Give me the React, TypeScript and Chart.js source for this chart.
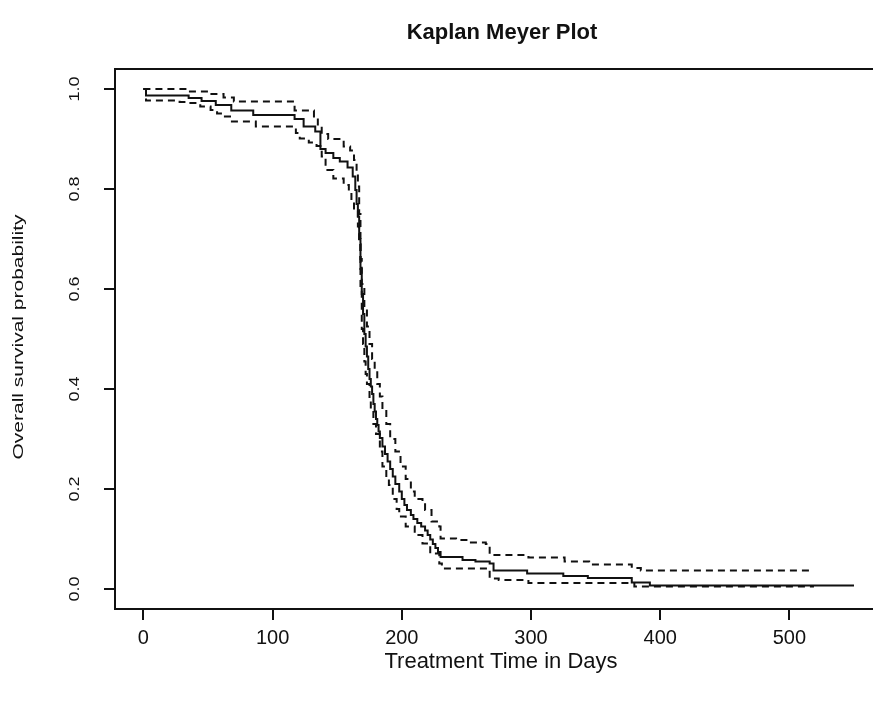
import React, { useEffect, useRef } from "react";
import { Chart, registerables } from "chart.js";

Chart.register(...registerables);

// ---- text ----
const chartTitle = "Kaplan Meyer Plot";
const xAxisTitle = "Treatment Time in Days";
const yAxisTitle = "Overall survival probability";

// ---- axes ----
const xTicks = [0, 100, 200, 300, 400, 500];
const yTicks = [0, 0.2, 0.4, 0.6, 0.8, 1.0];
const yTickLabels = ["0.0", "0.2", "0.4", "0.6", "0.8", "1.0"];
const xMin = -22;
const xMax = 574;
const yMin = -0.04;
const yMax = 1.04;

// ---- Kaplan-Meier estimate (days, survival) ----
const survTimes = [0, 2, 35, 45, 56, 68, 85, 117, 124, 133, 137, 141, 147, 152, 158, 162, 164, 165, 166, 167, 168, 169, 170, 171, 172, 173, 174, 175, 176, 177, 178, 179, 180, 181, 182, 183, 185, 187, 189, 191, 193, 195, 198, 200, 202, 204, 207, 209, 212, 215, 218, 220, 222, 224, 226, 228, 230, 247, 257, 268, 271, 297, 325, 344, 378, 392, 550];
const survValues = [1.0, 0.987, 0.982, 0.976, 0.968, 0.957, 0.948, 0.940, 0.925, 0.915, 0.880, 0.872, 0.862, 0.855, 0.843, 0.825, 0.798, 0.770, 0.745, 0.700, 0.640, 0.590, 0.550, 0.510, 0.485, 0.465, 0.440, 0.420, 0.405, 0.390, 0.370, 0.355, 0.340, 0.328, 0.315, 0.302, 0.285, 0.270, 0.255, 0.240, 0.225, 0.210, 0.195, 0.180, 0.168, 0.158, 0.148, 0.140, 0.132, 0.125, 0.117, 0.108, 0.099, 0.090, 0.082, 0.074, 0.064, 0.058, 0.055, 0.051, 0.037, 0.031, 0.026, 0.022, 0.013, 0.007, 0.007];

// ---- upper confidence limit ----
const upperTimes = [0, 35, 50, 62, 70, 117, 132, 135, 138, 143, 155, 160, 163, 165, 166, 167, 168, 169, 171, 173, 175, 177, 179, 181, 183, 185, 188, 191, 195, 199, 203, 207, 210, 216, 218, 223, 229, 230, 242, 252, 265, 268, 298, 326, 345, 378, 385, 519];
const upperValues = [1.0, 0.995, 0.990, 0.983, 0.975, 0.957, 0.941, 0.925, 0.910, 0.900, 0.885, 0.877, 0.858, 0.830, 0.805, 0.750, 0.660, 0.610, 0.560, 0.525, 0.490, 0.460, 0.440, 0.410, 0.385, 0.360, 0.330, 0.300, 0.275, 0.245, 0.220, 0.195, 0.180, 0.175, 0.158, 0.135, 0.125, 0.101, 0.098, 0.093, 0.090, 0.068, 0.063, 0.055, 0.049, 0.042, 0.037, 0.037];

// ---- lower confidence limit ----
const lowerTimes = [0, 2, 28, 35, 44, 52, 57, 62, 67, 87, 118, 121, 128, 134, 138, 141, 147, 155, 159, 161, 163, 166, 167, 168, 169, 170, 171, 172, 173, 175, 176, 178, 180, 183, 185, 188, 190, 193, 196, 198, 203, 210, 216, 222, 229, 231, 268, 275, 298, 380, 519];
const lowerValues = [1.0, 0.977, 0.974, 0.972, 0.965, 0.958, 0.951, 0.945, 0.935, 0.925, 0.912, 0.901, 0.893, 0.886, 0.865, 0.838, 0.821, 0.808, 0.795, 0.778, 0.758, 0.725, 0.690, 0.600, 0.520, 0.490, 0.455, 0.430, 0.410, 0.380, 0.360, 0.330, 0.310, 0.275, 0.245, 0.220, 0.208, 0.180, 0.160, 0.145, 0.125, 0.108, 0.091, 0.071, 0.051, 0.041, 0.021, 0.018, 0.012, 0.005, 0.005];

const FONT = "'Liberation Sans', Arial, Helvetica, sans-serif";

const toPoints = (t: number[], v: number[]) => t.map((x, i) => ({ x, y: v[i] }));

// draws text rotated 90° CCW, stretched along its reading direction
function drawRotated(ctx: CanvasRenderingContext2D, text: string, x: number, y: number, stretch: number) {
  ctx.save();
  ctx.translate(x, y);
  ctx.rotate(-Math.PI / 2);
  ctx.scale(stretch, 1);
  ctx.fillText(text, 0, 0);
  ctx.restore();
}

const decorPlugin = {
  id: "decor",
  afterDraw(chart: any) {
    const { ctx, chartArea: a, scales } = chart;
    ctx.save();
    // frame
    ctx.strokeStyle = "#111";
    ctx.lineWidth = 2;
    ctx.strokeRect(a.left, a.top, a.right - a.left, a.bottom - a.top);
    ctx.fillStyle = "#111";
    ctx.textAlign = "center";
    ctx.textBaseline = "middle";
    // y tick labels (rotated)
    ctx.font = `15px ${FONT}`;
    yTicks.forEach((v, i) => {
      const y = scales.y.getPixelForValue(v);
      drawRotated(ctx, yTickLabels[i], 75, y, 1.2);
    });
    // y axis title
    ctx.font = `14px ${FONT}`;
    const w = ctx.measureText(yAxisTitle).width;
    drawRotated(ctx, yAxisTitle, 19, 337, 245 / w);
    // x axis title
    ctx.font = `22px ${FONT}`;
    ctx.fillText(xAxisTitle, 501, 662);
    // main title
    ctx.font = `bold 22px ${FONT}`;
    ctx.fillText(chartTitle, 502, 33);
    ctx.restore();
  },
};

export default function App() {
  const ref = useRef<HTMLCanvasElement | null>(null);

  useEffect(() => {
    if (!ref.current) return;
    const chart = new Chart(ref.current, {
      type: "line",
      data: {
        datasets: [
          {
            label: "Survival",
            data: toPoints(survTimes, survValues),
            borderColor: "#111",
            borderWidth: 2,
            stepped: true,
            pointRadius: 0,
            fill: false,
          },
          {
            label: "Upper 95% CI",
            data: toPoints(upperTimes, upperValues),
            borderColor: "#111",
            borderWidth: 2,
            borderDash: [7, 5],
            stepped: true,
            pointRadius: 0,
            fill: false,
          },
          {
            label: "Lower 95% CI",
            data: toPoints(lowerTimes, lowerValues),
            borderColor: "#111",
            borderWidth: 2,
            borderDash: [7, 5],
            stepped: true,
            pointRadius: 0,
            fill: false,
          },
        ],
      },
      options: {
        responsive: false,
        animation: false,
        devicePixelRatio: 1,
        layout: { padding: { top: 69, right: 15, left: 0, bottom: 0 } },
        plugins: {
          legend: { display: false },
          title: { display: false },
          tooltip: { enabled: false },
        },
        scales: {
          x: {
            type: "linear",
            min: xMin,
            max: xMax,
            afterBuildTicks: (s: any) => {
              s.ticks = xTicks.map((v) => ({ value: v }));
            },
            afterFit: (s: any) => {
              s.height = 93;
            },
            border: { display: false },
            grid: {
              drawOnChartArea: false,
              drawTicks: true,
              tickLength: 11,
              color: "#111",
              lineWidth: 2,
            },
            ticks: {
              color: "#111",
              font: { family: FONT, size: 20 },
              padding: 6,
              maxRotation: 0,
              minRotation: 0,
            },
          },
          y: {
            type: "linear",
            min: yMin,
            max: yMax,
            afterBuildTicks: (s: any) => {
              s.ticks = yTicks.map((v) => ({ value: v }));
            },
            afterFit: (s: any) => {
              s.width = 115;
            },
            border: { display: false },
            grid: {
              drawOnChartArea: false,
              drawTicks: true,
              tickLength: 11,
              color: "#111",
              lineWidth: 2,
            },
            ticks: {
              display: false,
            },
          },
        },
      },
      plugins: [decorPlugin],
    });
    return () => chart.destroy();
  }, []);

  return (
    <div
      style={{
        position: "fixed",
        left: 0,
        top: 0,
        width: 873,
        height: 702,
        overflow: "hidden",
        background: "#fff",
      }}
    >
      <canvas ref={ref} width={900} height={702} style={{ width: 900, height: 702, display: "block" }} />
    </div>
  );
}
